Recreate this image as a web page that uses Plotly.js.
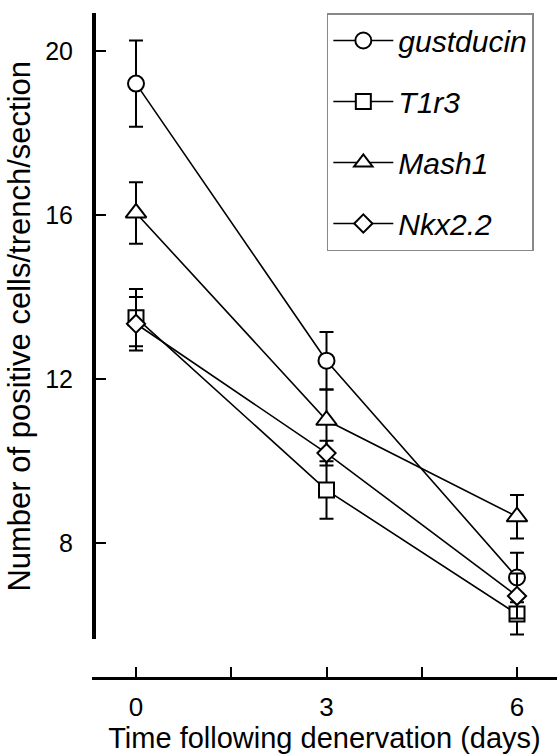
<!DOCTYPE html>
<html>
<head>
<meta charset="utf-8">
<script src="https://cdn.plot.ly/plotly-3.0.1.min.js"></script>
<style>html,body{margin:0;padding:0;background:#fff;}#chart{width:557px;height:754px;}</style>
</head>
<body>
<div id="chart"></div>
<script>
// Data
const days = [0, 3, 6];
const seriesNames = ["gustducin", "T1r3", "Mash1", "Nkx2.2"];
const gustducin = [19.2, 12.45, 7.17];
const gustducinErr = [1.05, 0.7, 0.6];
const t1r3 = [13.5, 9.3, 6.28];
const t1r3Err = [0.7, 0.7, 0.5];
const mash1 = [16.05, 11.0, 8.65];
const mash1Err = [0.75, 0.75, 0.53];
const nkx22 = [13.35, 10.2, 6.72];
const nkx22Err = [0.65, 0.3, 0.55];
const xTickVals = [0, 1.5, 3, 4.5, 6];
const xTickText = ["0", "", "3", "", "6"];
const yTickVals = [8, 12, 16, 20];

const FONT = "Liberation Sans, Arial, Helvetica, sans-serif";
const symbols = ["circle", "square", "triangle-up", "diamond"];
const sizes = [16, 15, 18, 14];
const ys = [gustducin, t1r3, mash1, nkx22];
const errs = [gustducinErr, t1r3Err, mash1Err, nkx22Err];

const traces = seriesNames.map((name, i) => ({
  type: "scatter",
  mode: "lines+markers",
  name: name,
  legendgroup: "g" + i,
  x: days,
  y: ys[i],
  error_y: {type: "data", array: errs[i], visible: true, color: "#000", thickness: 2, width: 7},
  line: {color: "#000", width: 1.6},
  marker: {symbol: symbols[i], size: sizes[i], color: "#fff", line: {color: "#000", width: 2}},
  cliponaxis: false
}));

const layout = {
  width: 557,
  height: 754,
  margin: {l: 92, r: 0, t: 13, b: 76},
  paper_bgcolor: "#fff",
  plot_bgcolor: "rgba(0,0,0,0)",
  showlegend: true,
  font: {family: FONT, color: "#000", size: 25},
  xaxis: {
    range: [-0.693, 6.63],
    domain: [0, 1],
    anchor: "free",
    position: 0,
    showline: true,
    linecolor: "#000",
    linewidth: 3,
    showgrid: false,
    zeroline: false,
    ticks: "inside",
    ticklen: 10,
    tickwidth: 2,
    tickcolor: "#000",
    tickmode: "array",
    tickvals: xTickVals,
    ticktext: xTickText,
    tickfont: {family: FONT, size: 26, color: "#000"},
    ticklabelstandoff: 5,
    title: {text: "Time following denervation (days)", font: {family: FONT, size: 29, color: "#000"}, standoff: 0},
    automargin: false
  },
  yaxis: {
    range: [5.66, 20.92],
    domain: [0.0579, 1],
    anchor: "free",
    position: 0.0043,
    showline: true,
    linecolor: "#000",
    linewidth: 4,
    showgrid: false,
    zeroline: false,
    ticks: "inside",
    ticklen: 10,
    tickwidth: 2,
    tickcolor: "#000",
    tickmode: "array",
    tickvals: yTickVals,
    tickfont: {family: FONT, size: 25, color: "#000"},
    ticklabelstandoff: 14,
    title: {text: "Number of positive cells/trench/section", font: {family: FONT, size: 31, color: "#000"}, standoff: 4},
    automargin: false
  },
  legend: {
    x: 0.505,
    y: 1,
    xanchor: "left",
    yanchor: "top",
    bgcolor: "#fff",
    bordercolor: "#888",
    borderwidth: 1.5,
    font: {family: FONT, size: 30, color: "#000", style: "italic"},
    tracegroupgap: 19,
    itemwidth: 60
  }
};

Plotly.newPlot("chart", traces, layout, {displayModeBar: false, staticPlot: true});
</script>
</body>
</html>
